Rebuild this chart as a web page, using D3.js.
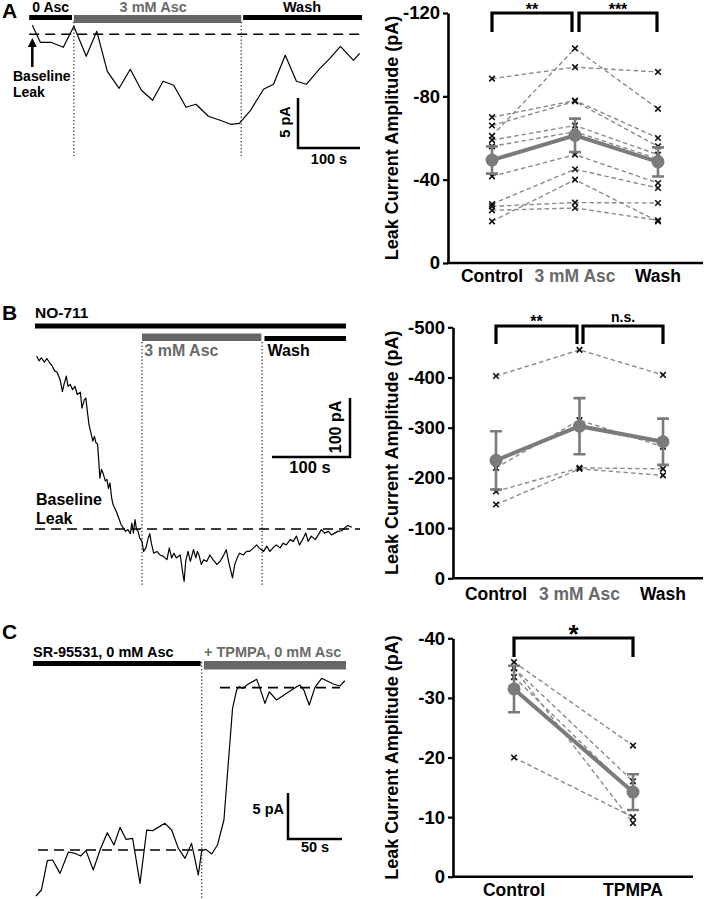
<!DOCTYPE html>
<html><head><meta charset="utf-8">
<script src="https://cdn.jsdelivr.net/npm/d3@7"></script>
<style>
body{margin:0;background:#fff}
svg{display:block}
text{font-family:"Liberation Sans",Arial,Helvetica,sans-serif;font-weight:bold}
</style>
</head><body>
<svg id="fig" width="707" height="899"></svg>
<script>
// ---------------- DATA ----------------
// Panel A trace (time s, current pA relative to baseline)
const aTraceT = [0,13,30,50,67,87,104,121,140,158,176,194,211,228,248,264,284,303,320,334,352,373,389,408,426,442,464,480,497,518,528];
const aTraceI = [0.9,-0.8,-0.8,-1.3,0.8,-2.2,0.3,-3.7,-5.4,-3.5,-5.6,-6.6,-4.7,-5.1,-7.3,-7.0,-8.2,-8.6,-9.0,-8.9,-7.6,-5.5,-5.0,-2.1,-4.7,-5.0,-3.4,-2.4,-1.2,-2.6,-1.9];
// Panel B trace
const bTraceT = [0,3,6,10,13,17,20,23,26,30,33,35,38,40,43,46,49,52,56,58,61,63,65,67,69,72,74,76,78,79,81,83,85,88,90,92,94,96,98,102,105,108,111,114,117,120,122,124,126,128,130,132,135,137,140,143,145,147,150,154,158,162,167,170,173,176,179,184,187,189,191,194,197,201,204,206,208,211,214,218,222,226,231,235,239,243,246,249,251,254,257,260,265,269,273,278,282,285,288,291,295,299,303,307,312,316,320,325,329,333,337,342,345,348,352,357,361,365,369,374,378,382,386,391,395,399,404];
const bTraceI = [293,285,290,283,289,281,276,268,266,253,233,245,259,242,245,236,242,228,232,205,219,222,199,177,166,149,157,146,144,126,86,101,95,81,84,69,78,53,41,30,19,8,2,-4,-1,-8,10,-7,16,-1,-4,-15,-21,-38,-32,-15,-8,-24,-41,-38,-44,-46,-52,-32,-49,-41,-49,-44,-72,-89,-55,-38,-55,-35,-49,-38,-44,-60,-52,-55,-44,-52,-60,-55,-46,-35,-55,-72,-83,-60,-49,-41,-44,-38,-38,-32,-27,-32,-35,-38,-29,-38,-32,-27,-32,-24,-27,-18,-21,-12,-27,-15,-7,-21,-12,-18,-10,-1,-7,-4,-10,-7,-4,-3,2,6,3];
// Panel C trace
const cTraceT = [0,5,10.5,15.4,22.2,30,36,41.4,46.3,53,59.3,66,72.2,77.8,83.3,89.5,96.3,102.5,108,114.2,119.4,125.6,131.8,138,144,150.3,153.4,157.4,162.7,168,174,179,182,185.8,188.3,191.4,196.6,204.3,207.4,212,216,222.8,232,240.7,244.4,248,253,258.3,264.5,275.3,281.5,286];
const cTraceI = [-5.0,-4.35,-1.16,-1.09,-2.54,-0.22,-0.36,-0.65,-0.07,-2.17,0,1.88,0.54,2.46,1.16,1.27,-3.62,2.17,2.1,2.54,2.9,2.17,0.18,-0.91,0.72,-2.72,-0.07,0.07,-0.43,0.54,3.26,10.87,15.4,17.4,17.75,17.57,18.04,18.55,17.57,15.94,17.2,16.3,17.03,17.68,17.93,17.39,15.76,17.68,18.66,18.04,17.83,18.4];
const cTpmpaBaseline = 17.65;

// Panel A summary
const aCategories = ["Control","3 mM Asc","Wash"];
const aControl = [-88.5,-61,-70,-66,-59,-56,-41.6,-28.3,-20,-27.2,-25.3];
const aAsc     = [-94,-103,-78,-77.6,-66,-63,-52,-45,-40,-29,-26.4];
const aWash    = [-91.7,-74,-60,-56,-52,-50,-38.4,-36,-20,-28.8,-20.5];
const aMean = [-49.4,-61.3,-48.5];
const aSem  = [6.5,8,7];
const aYTicks = [0,-40,-80,-120];
const aSig = ["**","***"];

// Panel B summary
const bCategories = ["Control","3 mM Asc","Wash"];
const bControl = [-403,-173,-147,-220];
const bAsc     = [-455,-220,-218,-315];
const bWash    = [-405,-218,-205,-262];
const bMean = [-235,-303,-272];
const bSem  = [58,56,46];
const bYTicks = [0,-100,-200,-300,-400,-500];
const bSig = ["**","n.s."];

// Panel C summary
const cCategories = ["Control","TPMPA"];
const cControl = [-36,-35,-35,-33.5,-20];
const cTpmpa   = [-22,-16,-9,-14,-10];
const cMean = [-31.5,-14.2];
const cSem  = [3.9,3.0];
const cYTicks = [0,-10,-20,-30,-40];
const cSig = ["*"];

// ---------------- DRAW ----------------
const svg = d3.select("#fig");
const GRAY_BAR = "#666";
const GRAY_TXT = "#6a6a6a";
const MEAN_COL = "#7b7b7b";
const IND_COL = "#8a8a8a";

function txt(g, x, y, s, size, opts={}) {
  const t = g.append("text").attr("x", x).attr("y", y).attr("font-size", size)
    .attr("fill", opts.fill || "#000").attr("text-anchor", opts.anchor || "start").text(s);
  if (opts.rotate) t.attr("x", 0).attr("y", 0).attr("transform", `translate(${x},${y}) rotate(-90)`);
  return t;
}
function hbar(g, x1, x2, yTop, h, col) {
  g.append("rect").attr("x", x1).attr("y", yTop).attr("width", x2 - x1).attr("height", h).attr("fill", col);
}
function dashed(g, x1, x2, y) {
  g.append("line").attr("x1", x1).attr("x2", x2).attr("y1", y).attr("y2", y)
    .attr("stroke", "#000").attr("stroke-width", 1.6).attr("stroke-dasharray", "10,6");
}
function dotted(g, x, y1, y2) {
  g.append("line").attr("x1", x).attr("x2", x).attr("y1", y1).attr("y2", y2)
    .attr("stroke", "#333").attr("stroke-width", 1.3).attr("stroke-dasharray", "1.3,2.2");
}
function traceLine(g, T, I, x, y) {
  const line = d3.line().x((d, i) => x(T[i])).y((d, i) => y(I[i]));
  g.append("path").datum(T).attr("d", line).attr("fill", "none")
    .attr("stroke", "#000").attr("stroke-width", 1.2).attr("stroke-linejoin", "round");
}
// corner at (x0,y0); vertical goes up hy; horizontal goes wx (negative = to the left)
function scaleBar(g, x0, y0, wx, hy) {
  g.append("path").attr("d", `M${x0},${y0 - hy}V${y0}H${x0 + wx}`)
    .attr("fill", "none").attr("stroke", "#000").attr("stroke-width", 2.5);
}

// ===== Panel A trace =====
{
  const g = svg.append("g");
  const x = d3.scaleLinear().domain([0, 100]).range([32.3, 94.3]);   // 100 s = 62 px
  const y = d3.scaleLinear().domain([0, -5]).range([34.3, 84.3]);    // 5 pA = 50 px
  txt(g, 2, 18, "A", 21);
  hbar(g, x(-5), x(64), 15, 5, "#000");
  hbar(g, x(67), x(337), 15, 8, GRAY_BAR);
  hbar(g, x(340), 362, 15, 5, "#000");
  txt(g, x(0), 12, "0 Asc", 14);
  txt(g, x(195), 12, "3 mM Asc", 14.5, {anchor: "middle", fill: GRAY_TXT});
  txt(g, x(435), 12, "Wash", 14.5, {anchor: "middle"});
  dashed(g, x(-5), 362, y(0));
  dotted(g, x(67), 22, 156);
  dotted(g, x(337), 22, 156);
  traceLine(g, aTraceT, aTraceI, x, y);
  g.append("line").attr("x1", x(0)).attr("x2", x(0)).attr("y1", 67).attr("y2", 45)
    .attr("stroke", "#000").attr("stroke-width", 2.5);
  g.append("path").attr("d", `M${x(0)},38L${x(0) - 4.5},47L${x(0) + 4.5},47Z`).attr("fill", "#000");
  txt(g, 13, 81, "Baseline", 14);
  txt(g, 13, 97, "Leak", 14);
  scaleBar(g, 298, 148, x(100) - x(0), y(-5) - y(0));
  txt(g, 290, 122, "5 pA", 14.5, {anchor: "middle", rotate: true});
  txt(g, 329, 164, "100 s", 14.5, {anchor: "middle"});
}

// ===== Panel B trace =====
{
  const g = svg.append("g");
  const x = d3.scaleLinear().domain([0, 100]).range([36.7, 114.7]);  // 100 s = 78 px
  const y = d3.scaleLinear().domain([0, 100]).range([529, 470]);     // 100 pA = 59 px
  txt(g, 2, 320, "B", 21);
  txt(g, 35, 318, "NO-711", 15.5);
  hbar(g, 35, 346, 323.5, 5, "#000");
  hbar(g, x(135), x(288), 333.5, 7.5, GRAY_BAR);
  hbar(g, x(292), 346, 336, 5, "#000");
  txt(g, x(138), 356, "3 mM Asc", 16, {fill: GRAY_TXT});
  txt(g, x(296), 356, "Wash", 16);
  dotted(g, x(135), 342, 585);
  dotted(g, x(289), 342, 585);
  dashed(g, 35, 360, y(0));
  traceLine(g, bTraceT, bTraceI, x, y);
  txt(g, 36, 505, "Baseline", 16);
  txt(g, 36, 524, "Leak", 16);
  scaleBar(g, 350, 457, -(x(100) - x(0)), y(0) - y(100));
  txt(g, 341, 427, "100 pA", 16, {anchor: "middle", rotate: true});
  txt(g, 310, 473, "100 s", 16.5, {anchor: "middle"});
}

// ===== Panel C trace =====
{
  const g = svg.append("g");
  const x = d3.scaleLinear().domain([0, 50]).range([36, 90]);    // 50 s = 54 px
  const y = d3.scaleLinear().domain([0, 5]).range([850, 804]);   // 5 pA = 46 px
  txt(g, 2, 639, "C", 21);
  txt(g, 33, 657, "SR-95531, 0 mM Asc", 14.5);
  txt(g, 204, 657, "+ TPMPA, 0 mM Asc", 14.5, {fill: GRAY_TXT});
  hbar(g, 33, x(152.5), 661, 5, "#000");
  hbar(g, x(155.5), 346, 661, 8.5, GRAY_BAR);
  dotted(g, x(153.4), 662, 899);
  dashed(g, 38, 203, y(0));
  dashed(g, 220, 340, y(cTpmpaBaseline));
  traceLine(g, cTraceT, cTraceI, x, y);
  scaleBar(g, 288, 839, x(50) - x(0), y(0) - y(5));
  txt(g, 284, 814, "5 pA", 14.5, {anchor: "end"});
  txt(g, 315, 852, "50 s", 14.5, {anchor: "middle"});
}

// ===== Summary panels =====
function summary(cfg) {
  const g = svg.append("g");
  const y = d3.scaleLinear().domain([0, cfg.ticks[cfg.ticks.length - 1]]).range(cfg.yRange);
  const x = d3.scalePoint().domain(cfg.cats).range(cfg.xRange);
  const nCells = cfg.groups[0].length;
  const cells = d3.range(nCells).map(i => cfg.groups.map(gr => gr[i]));
  const line = d3.line().x((d, j) => x(cfg.cats[j])).y(d => y(d));
  g.selectAll(".ind").data(cells).join("path").attr("d", line).attr("fill", "none")
    .attr("stroke", IND_COL).attr("stroke-width", 1.4).attr("stroke-dasharray", "4.5,3");
  const pts = [];
  cells.forEach(c => c.forEach((v, j) => pts.push([x(cfg.cats[j]), y(v)])));
  const s = 2.8;
  g.selectAll(".mk").data(pts).join("path")
    .attr("d", d => `M${d[0] - s},${d[1] - s}L${d[0] + s},${d[1] + s}M${d[0] - s},${d[1] + s}L${d[0] + s},${d[1] - s}`)
    .attr("stroke", "#111").attr("stroke-width", 1.6);
  g.append("path").datum(cfg.mean).attr("d", line).attr("fill", "none")
    .attr("stroke", MEAN_COL).attr("stroke-width", 4);
  cfg.mean.forEach((m, j) => {
    const cx = x(cfg.cats[j]);
    const y1 = y(m - cfg.sem[j]), y2 = y(m + cfg.sem[j]);
    g.append("path").attr("d", `M${cx},${y1}V${y2}M${cx - 6},${y1}H${cx + 6}M${cx - 6},${y2}H${cx + 6}`)
      .attr("stroke", MEAN_COL).attr("stroke-width", 2.6).attr("fill", "none");
  });
  g.selectAll(".mn").data(cfg.mean).join("circle")
    .attr("cx", (d, j) => x(cfg.cats[j])).attr("cy", d => y(d)).attr("r", 6.5).attr("fill", MEAN_COL);
  const ax = g.append("g").attr("transform", `translate(${cfg.axisX},0)`)
    .call(d3.axisLeft(y).tickValues(cfg.ticks).tickSize(5).tickSizeOuter(0).tickPadding(3).tickFormat(d => String(d)));
  ax.select(".domain").attr("stroke", "#000").attr("stroke-width", 2.6);
  ax.selectAll(".tick line").attr("stroke", "#000").attr("stroke-width", 2.2);
  ax.selectAll(".tick text").attr("font-size", 18.5).attr("fill", "#000")
    .attr("font-family", '"Liberation Sans",Arial,sans-serif').attr("font-weight", "bold");
  g.append("line").attr("x1", cfg.axisX - 1).attr("x2", cfg.axisEnd).attr("y1", y(0)).attr("y2", y(0))
    .attr("stroke", "#000").attr("stroke-width", 2.6);
  cfg.cats.forEach((c, j) => {
    txt(g, x(c), cfg.labelY, c, 17.5, {anchor: "middle", fill: cfg.catColors[j]});
  });
  txt(g, 398, (cfg.yRange[0] + cfg.yRange[1]) / 2, "Leak Current Amplitude (pA)", 18, {anchor: "middle", rotate: true});
  cfg.brackets.forEach((b, k) => {
    g.append("path").attr("d", `M${b[0]},${b[3]}V${b[2]}H${b[1]}V${b[3]}`)
      .attr("fill", "none").attr("stroke", "#000").attr("stroke-width", 3.2);
    txt(g, (b[0] + b[1]) / 2, cfg.sigY[k], cfg.sig[k], cfg.sigSize[k], {anchor: "middle"});
  });
}

summary({
  cats: aCategories, catColors: ["#000", GRAY_TXT, "#000"],
  groups: [aControl, aAsc, aWash], mean: aMean, sem: aSem, ticks: aYTicks,
  yRange: [263, 13], xRange: [492, 658], axisX: 448, axisEnd: 703, labelY: 282,
  brackets: [[492, 572, 13, 32], [579, 657, 13, 32]], sig: aSig, sigY: [15, 15], sigSize: [16, 16]
});
summary({
  cats: bCategories, catColors: ["#000", GRAY_TXT, "#000"],
  groups: [bControl, bAsc, bWash], mean: bMean, sem: bSem, ticks: bYTicks,
  yRange: [578.3, 327.3], xRange: [496, 663], axisX: 453, axisEnd: 703, labelY: 600,
  brackets: [[496, 577, 326, 344], [583, 663, 326, 344]], sig: bSig, sigY: [327, 322], sigSize: [16, 14]
});
summary({
  cats: cCategories, catColors: ["#000", "#000"],
  groups: [cControl, cTpmpa], mean: cMean, sem: cSem, ticks: cYTicks,
  yRange: [876.7, 638.3], xRange: [514, 633], axisX: 453, axisEnd: 693, labelY: 896,
  brackets: [[514, 633, 638, 657]], sig: cSig, sigY: [643], sigSize: [26]
});
</script>
</body></html>
